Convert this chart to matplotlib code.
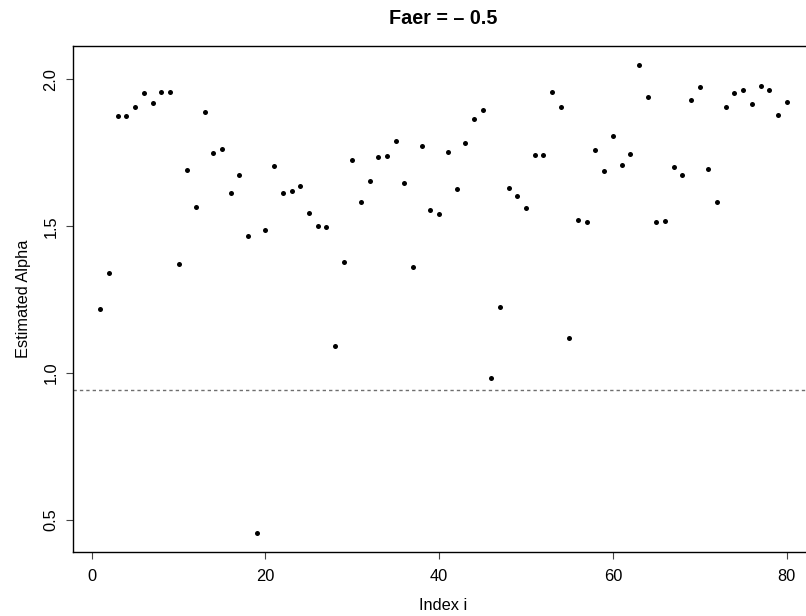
import matplotlib
matplotlib.use("Agg")
import matplotlib.pyplot as plt
import numpy as np

plt.rcParams['font.family'] = ['Liberation Sans', 'DejaVu Sans']

# estimated alpha for each index i = 1..80
index_i = np.arange(1, 81)
alpha_hat = [
    1.220, 1.342, 1.876, 1.876, 1.906, 1.955, 1.919, 1.957, 1.957, 1.372,
    1.692, 1.565, 1.888, 1.748, 1.762, 1.615, 1.676, 1.468, 0.455, 1.487,
    1.706, 1.615, 1.621, 1.637, 1.547, 1.502, 1.496, 1.092, 1.378, 1.727,
    1.582, 1.654, 1.737, 1.740, 1.790, 1.647, 1.363, 1.772, 1.556, 1.543,
    1.754, 1.628, 1.785, 1.865, 1.897, 0.982, 1.224, 1.632, 1.603, 1.564,
    1.744, 1.743, 1.959, 1.906, 1.118, 1.523, 1.514, 1.760, 1.688, 1.808,
    1.709, 1.746, 2.048, 1.941, 1.515, 1.517, 1.701, 1.675, 1.930, 1.974,
    1.695, 1.582, 1.905, 1.953, 1.964, 1.917, 1.977, 1.964, 1.880, 1.923,
]
ref_level = 0.942
x_ticks = [0, 20, 40, 60, 80]
y_ticks = [0.5, 1.0, 1.5, 2.0]

W, H = 806, 616
fig = plt.figure(figsize=(W / 100, H / 100), dpi=100)
# plot box runs a little past the right edge of the image (cropped R figure)
ax = fig.add_axes([73 / W, (H - 552) / H, (814 - 73) / W, (552 - 46) / H])

ax.plot(index_i, alpha_hat, 'o', color='black', ms=3.6, mew=0)
ax.axhline(ref_level, color='#6e6e6e', lw=1.0, dashes=(2.4, 2.2))

ax.set_xlim(-2.16, 83.16)
ax.set_ylim(0.391, 2.114)
ax.set_xticks(x_ticks)
ax.set_yticks(y_ticks)
ax.set_yticklabels(["0.5", "1.0", "1.5", "2.0"])

for s in ax.spines.values():
    s.set_linewidth(1.0)
ax.tick_params(length=5, width=0.8, color='#444444', labelsize=11.8, pad=7)
ax.tick_params(axis='y', labelrotation=90, pad=5.5)
for lab in ax.get_yticklabels():
    lab.set_va('center')

ax.set_xlabel("Index i", fontsize=11.8, labelpad=10)
ax.set_ylabel("Estimated Alpha", fontsize=11.8, labelpad=9)
ax.set_title("Faer = \u2013 0.5", fontsize=14.2, fontweight='bold', pad=16)

fig.savefig("out.png", dpi=100)
